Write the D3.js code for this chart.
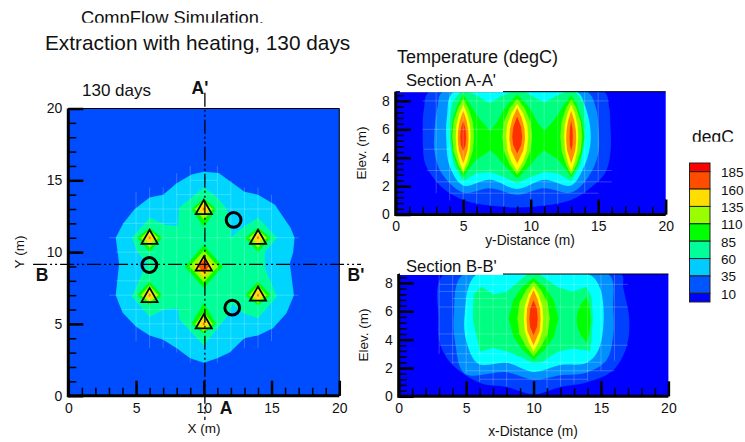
<!DOCTYPE html>
<html>
<head>
<meta charset="utf-8">
<script src="https://cdn.jsdelivr.net/npm/d3@7"></script>
<style>
  html, body { margin: 0; padding: 0; background: #fff; }
  svg { display: block; }
  text { font-family: "Liberation Sans", Arial, sans-serif; fill: #111; }
</style>
</head>
<body>
<svg id="chart" width="745" height="442"></svg>
<script>
// colour legend
const legendLevels = [185, 160, 135, 110, 85, 60, 35, 10];
const legendColors = ["#ff0000", "#ff4d00", "#ffdd00", "#99ff00", "#00ff00", "#00ff99", "#00ccff", "#0055ff", "#0000ff"];

// plan view, contour outlines as [x, y] in metres
const planCyan = [[10,15.6],[11.1,15.5],[13,14.2],[14,14],[15.25,13.3],[16.4,11.7],[16.7,11],[16.6,10],[16.35,9.2],[16.65,7],[16.1,5.75],[15.1,4.7],[14,4.2],[13,4],[11.9,3],[11,2.6],[10,2.3],[9,2.6],[8,3.3],[7,3.9],[6,4.2],[5,4.8],[4,5.8],[3.5,7],[3.75,9.2],[3.5,11],[4.05,12],[4.9,13],[6,13.8],[7,14],[8,14.8],[9.1,15.4]];
const planSpring = [[10,14.5],[11,13.8],[11.7,13],[12,11.8],[12,11],[13,11.8],[14,12.4],[15.4,11],[14.5,10],[14.5,8.9],[15.4,6.9],[14,5.4],[12.8,5.8],[12.1,6.4],[11.8,5.6],[11,4.7],[10,3.5],[9.1,4.4],[8.2,5.3],[8.1,6.1],[7.1,6],[6,5.5],[4.7,6.9],[5.4,8.4],[5.8,9.2],[5.1,10],[4.7,11],[6,12.4],[7.1,11.9],[8.1,11.8],[8.2,13.1],[9.1,13.8]];
// around each well: [x, y, half width, reach up, reach down]
const planGreen = [[10,13,0.92,0.75,1.25],[14,11,0.95,0.7,1],[14,7,0.95,0.95,0.7],[10,5,0.92,1.45,0.65],[6,7,0.92,0.95,0.7],[6,11,0.92,0.7,1],[10,9,1.4,1.5,1.5]];
const planLime = [[10,13,0.65,0.6,0.75],[14,11,0.65,0.55,0.7],[14,7,0.65,0.7,0.55],[10,5,0.65,0.8,0.55],[6,7,0.65,0.7,0.55],[6,11,0.65,0.55,0.7],[10,9,1.05,1.1,1.1]];
const planYellow = [[10,13,0.42,0.45,0.5],[14,11,0.42,0.4,0.45],[14,7,0.42,0.45,0.4],[10,5,0.42,0.5,0.4],[6,7,0.42,0.45,0.4],[6,11,0.42,0.4,0.45],[10,9,0.7,0.75,0.75]];
const planOrange = [[10,13,0.1,0.12,0.12],[14,11,0.1,0.12,0.12],[14,7,0.1,0.12,0.12],[10,5,0.1,0.12,0.12],[6,7,0.1,0.12,0.12],[6,11,0.1,0.12,0.12],[10,9,0.4,0.45,0.45]];

const heaterX = [10, 14, 14, 10, 6, 6, 10];
const heaterY = [12.97, 10.9, 6.95, 5.02, 6.85, 10.9, 9.04];
const monitorX = [12.2, 5.98, 12.1];
const monitorY = [12.24, 9.1, 6.13];

const planMeshV = [[5,3.8,14.2],[6,3.3,14.5],[7,3.3,14.5],[8,3,15.5],[9,2.3,16],[11,2.3,16],[12,3,15],[13,3.3,14.5],[14,3.3,14.5],[15,3.8,14]];
const planMeshH = [[4,7,13],[5,5,15],[6,4,9],[7,3,17],[8,3.5,6],[10,3.5,6.5],[11,3,17],[12,4,8],[13,5,15],[14,8,12],[15,9,11]];

// section A-A', outer bands
const aBand1 = [[2.5,8.66],[2.1,7.5],[2,5.5],[2.15,3.7],[2.55,2.9],[3.5,1.85],[5,1.03],[7,0.63],[9,0.5],[11,0.63],[13,1.03],[14.4,1.85],[15.5,2.9],[15.9,4.3],[15.9,6.4],[15.8,7.6],[15.4,8.66]];
const aBand2 = [[3.5,8.66],[3.1,7.6],[2.85,5.5],[2.9,4.3],[3.4,2.9],[5,1.55],[7,1.85],[9,1.4],[11,1.85],[13,1.55],[14.3,2.7],[15,4.3],[15,6.4],[14.8,7.6],[14.15,8.66]];
const aBand3 = [[4.3,8.66],[3.8,6.9],[3.75,5.25],[4,3.4],[5,2.05],[7,2.45],[9,1.8],[11,2.45],[13,2.05],[13.9,3.25],[14.4,4.8],[14.4,6.2],[14,7.7],[13.4,8.66]];
const aBand4 = [[4.2,7.9],[4.8,8.66],[5.3,8.66],[6,8.4],[6.9,7.85],[8,8.4],[8.6,8.66],[9.5,8.66],[10,8.4],[11,7.9],[12,8.4],[12.7,8.66],[13.3,8.66],[13.9,7.9],[14.05,6.5],[14,5.25],[13.7,3.5],[13,2.35],[12,2.9],[11,3],[10,2.65],[9,2.2],[8,2.65],[7,3],[6,2.9],[5,2.35],[4.3,3.5],[4,5.25],[3.95,6.5]];
const aBand5 = [[4.1,5.5],[4.25,6.8],[4.6,7.8],[5,8.45],[5.5,7.8],[6,7],[6.5,6.4],[7,5.9],[7.5,6.5],[8,7.4],[8.5,8],[9,8.45],[9.5,8],[10,7.4],[10.5,6.5],[11,5.9],[11.5,6.4],[12,7],[12.5,7.8],[13,8.4],[13.4,7.8],[13.75,6.8],[14,5.5],[13.75,4.2],[13.4,3.3],[13,2.65],[12.5,3.3],[12,3.9],[11.5,4.2],[11,4.5],[10.5,4.1],[10,3.5],[9.5,3],[9,2.55],[8.5,3],[8,3.5],[7.5,4.1],[7,4.5],[6.5,4.2],[6,3.9],[5.5,3.3],[5,2.65],[4.6,3.3],[4.25,4.2]];
// lenses round each well: well x, then rows of [y, half width]
const aLime = [[5,[[8.15,0],[7.5,0.38],[6.5,0.72],[5.5,0.8],[4.5,0.72],[3.5,0.38],[2.9,0]]],[9,[[8.15,0],[7.5,0.55],[6.5,1],[5.5,1.1],[4.5,1],[3.5,0.55],[2.8,0]]],[13,[[8.1,0],[7.5,0.38],[6.5,0.72],[5.5,0.8],[4.5,0.72],[3.5,0.38],[2.8,0]]]];
const aYellow = [[5,[[7.75,0],[7.1,0.3],[6.3,0.5],[5.5,0.55],[4.5,0.48],[3.7,0.28],[3.05,0]]],[9,[[7.8,0],[7.1,0.45],[6.3,0.75],[5.5,0.82],[4.5,0.72],[3.7,0.42],[3.05,0]]],[13,[[7.75,0],[7.1,0.28],[6.3,0.47],[5.5,0.52],[4.5,0.45],[3.7,0.26],[3.05,0]]]];
const aOrange = [[5,[[7.3,0],[6.6,0.25],[5.9,0.38],[5.2,0.4],[4.5,0.32],[3.6,0]]],[9,[[7.5,0],[6.8,0.34],[6,0.54],[5.3,0.58],[4.5,0.45],[3.6,0]]],[13,[[7.3,0],[6.6,0.23],[5.9,0.35],[5.2,0.37],[4.5,0.3],[3.6,0]]]];
const aRed = [[5,[[6.6,0],[6,0.18],[5.4,0.22],[4.9,0.18],[4.47,0]]],[9,[[6.9,0],[6.2,0.28],[5.5,0.37],[4.9,0.3],[4.3,0]]],[13,[[6.6,0],[6,0.1],[5.4,0.12],[4.9,0.1],[4.5,0]]]];

const aMeshV = [[3,1.5,8.66],[4,1,8.66],[5,0.9,8.66],[6,0.7,8.66],[7,0.6,8.66],[8,0.5,8.66],[10,0.5,8.66],[11,0.6,8.66],[12,0.7,8.66],[14,1.5,8.66],[15,2.3,8.66]];
const aMeshH = [[8,2,15.8],[6,2,8],[4.6,2.1,4],[3.1,2.3,16],[2.3,3,16],[1.5,4,15]];

// section B-B', outer bands
const bBand1 = [[3.36,8.63],[2.95,5.4],[3.07,3.7],[3.9,2.3],[6.15,0.9],[8,0.66],[10,0.14],[12,0.66],[14,1],[15.9,1.84],[16.9,3.5],[17.1,5.4],[16.65,7.7],[16.5,8.63]];
const bBand2 = [[4.8,8.63],[4.1,5.85],[4.2,3.7],[4.9,1.6],[8,1.7],[10,1.18],[12,1.49],[13.9,1.67],[15.4,2.55],[15.9,4.2],[15.9,6.3],[15.55,8.63]];
const bBand3 = [[5.8,8.63],[4.9,5.85],[5,3.96],[5.9,2.3],[8,2.36],[10,1.72],[12,2.2],[13.95,2.36],[14.8,3.25],[15.2,5.4],[14.9,7.7],[14.05,8.63]];
const bBand4 = [[6.15,7.73],[7,7.2],[8,7.38],[9,8.2],[9.6,8.63],[10.4,8.63],[10.85,8.35],[11.8,7.7],[12.9,7.38],[13.93,7.73],[14.3,7],[14.4,5.5],[14.3,4],[14.2,3.2],[12.9,3.37],[11.8,3.14],[10.6,2.4],[10,2.33],[9.2,2.7],[8.1,3.14],[7,3.4],[6.03,3.14],[5.5,5.4],[5.55,7.2]];
const bSideLens = [[13.93,7],[13.5,6.5],[13.25,5.9],[13.2,5.4],[13.25,4.9],[13.5,4.3],[13.93,3.8],[14.12,4.4],[14.25,5.4],[14.12,6.4]];
const bGreen = [[10,[[8.35,0],[7.7,0.85],[6.8,1.5],[5.5,1.85],[4.2,1.5],[3.3,0.85],[2.6,0]]]];
const bLime = [[10,[[8.1,0],[7.5,0.55],[6.6,1.05],[5.5,1.2],[4.4,1.05],[3.5,0.55],[2.83,0]]]];
const bYellow = [[10,[[7.8,0],[7.2,0.36],[6.4,0.65],[5.5,0.72],[4.6,0.65],[3.8,0.36],[3.14,0]]]];
const bOrange = [[10,[[7.5,0],[6.9,0.28],[6.2,0.48],[5.4,0.52],[4.6,0.46],[3.6,0]]]];
const bRed = [[10,[[6.8,0],[6.2,0.24],[5.5,0.31],[4.9,0.26],[4.3,0]]]];

const bMeshV = [[3,3,8.63],[4,2.3,8.63],[5,1.6,8.63],[6,1,8.63],[7,0.8,8.63],[8,0.7,8.63],[11,0.6,8.63],[12,0.7,8.63],[13,0.9,8.63],[14,1.1,8.63],[15,1.8,8.63],[16,2.5,8.63]];
const bMeshH = [[7.9,3,17],[7.4,3,7],[6.9,4,8],[6.3,3,17],[4.4,3,9],[3.6,3,17],[3,3.5,8],[2.4,4,15],[1.8,5,16],[1.2,6,14]];

const svg = d3.select("#chart");

const planC = { cyan: "#00d5ff", spring: "#00ff99", green: "#00ff00", lime: "#99ff00", yellow: "#ffdd00", orange: "#ff5000" };
const sectC = ["#0040ff", "#0090ff", "#00ffff", "#00ff80", "#00ff00", "#80ff00", "#ffff00", "#ff9000", "#ff3000"];

// lens rows to closed outline
const lens = ([wx, rows]) => rows.map(r => [wx + r[1], r[0]])
  .concat(rows.slice(1, -1).reverse().map(r => [wx - r[1], r[0]]));
const kite = ([wx, wy, rx, up, down]) => [[wx, wy + up], [wx + rx, wy], [wx, wy - down], [wx - rx, wy]];

let clipCount = 0;
function makePanel(box, xMax, yMax, bg) {
  const x = d3.scaleLinear().domain([0, xMax]).range([box.left, box.right]);
  const y = d3.scaleLinear().domain([0, yMax]).range([box.bottom, box.top]);
  const clipId = "clip" + (++clipCount);
  svg.append("clipPath").attr("id", clipId).append("rect")
    .attr("x", box.left).attr("y", box.top)
    .attr("width", box.right - box.left).attr("height", box.bottom - box.top);
  const g = svg.append("g");
  g.append("rect")
    .attr("x", box.left).attr("y", box.top)
    .attr("width", box.right - box.left).attr("height", box.bottom - box.top)
    .attr("fill", bg);
  const fills = g.append("g").attr("clip-path", `url(#${clipId})`);
  const line = d3.line().x(d => x(d[0])).y(d => y(d[1]));
  const smooth = d3.line().x(d => x(d[0])).y(d => y(d[1])).curve(d3.curveCatmullRomClosed.alpha(0.5));
  const poly = (pts, color, round) => fills.append("path")
    .attr("d", round ? smooth(pts) : line(pts) + "Z").attr("fill", color);
  return { x, y, g, poly, box };
}

function drawMesh(p, vert, horiz) {
  const mesh = p.g.append("g").attr("stroke", "#fff").attr("stroke-opacity", 0.22).attr("stroke-width", 1);
  vert.forEach(m => mesh.append("line").attr("x1", p.x(m[0])).attr("x2", p.x(m[0])).attr("y1", p.y(m[1])).attr("y2", p.y(m[2])));
  horiz.forEach(m => mesh.append("line").attr("y1", p.y(m[0])).attr("y2", p.y(m[0])).attr("x1", p.x(m[1])).attr("x2", p.x(m[2])));
}

function drawAxes(p, yMinor, yMajor) {
  const { x, y, g, box } = p;
  const style = (a, w) => {
    a.selectAll("line").attr("stroke", "#000").attr("stroke-width", w);
    a.selectAll("text").style("font-size", "14px").attr("fill", "#111");
    a.select(".domain").remove();
  };
  const xMinor = g.append("g").attr("transform", `translate(0,${box.bottom})`)
    .call(d3.axisBottom(x).tickValues(d3.range(0, 21, 1)).tickSize(-8).tickFormat(""));
  style(xMinor, 1.5);
  const xMajor = g.append("g").attr("transform", `translate(0,${box.bottom})`)
    .call(d3.axisBottom(x).tickValues([0, 5, 10, 15, 20]).tickSizeInner(-15).tickSizeOuter(0).tickPadding(7));
  style(xMajor, 2.5);
  const yMin = g.append("g").attr("transform", `translate(${box.left},0)`)
    .call(d3.axisLeft(y).tickValues(yMinor).tickSize(-8).tickFormat(""));
  style(yMin, 1.5);
  const yMaj = g.append("g").attr("transform", `translate(${box.left},0)`)
    .call(d3.axisLeft(y).tickValues(yMajor).tickSizeInner(-15).tickSizeOuter(0).tickPadding(6));
  style(yMaj, 2.5);
  // thick left and bottom edge, thin top
  g.append("line").attr("x1", box.left).attr("x2", box.left).attr("y1", box.top).attr("y2", box.bottom + 1.5).attr("stroke", "#000").attr("stroke-width", 3);
  g.append("line").attr("x1", box.left).attr("x2", box.right).attr("y1", box.bottom).attr("y2", box.bottom).attr("stroke", "#000").attr("stroke-width", 3);
  g.append("line").attr("x1", box.left).attr("x2", box.right).attr("y1", box.top).attr("y2", box.top).attr("stroke", "#000").attr("stroke-width", 1);
}

const label = (x, y, str, size, opts = {}) => svg.append("text")
  .attr("x", x).attr("y", y)
  .attr("text-anchor", opts.anchor || "start")
  .attr("font-weight", opts.bold ? "bold" : null)
  .attr("transform", opts.rotate ? `rotate(-90,${x},${y})` : null)
  .style("font-size", size + "px")
  .text(str);

// === plan view ===
const plan = makePanel({ left: 68.3, right: 339.3, top: 108.5, bottom: 395.7 }, 20, 20, "#004cff");
plan.poly(planCyan, planC.cyan);
plan.poly(planSpring, planC.spring);
planGreen.forEach(d => plan.poly(kite(d), planC.green));
planLime.forEach(d => plan.poly(kite(d), planC.lime));
planYellow.forEach(d => plan.poly(kite(d), planC.yellow));
planOrange.forEach(d => plan.poly(kite(d), planC.orange));
drawMesh(plan, planMeshV, planMeshH);
plan.g.append("line").attr("x1", plan.x(20)).attr("x2", plan.x(20)).attr("y1", 108.5).attr("y2", 395.7).attr("stroke", "#000").attr("stroke-width", 1);
drawAxes(plan, d3.range(0, 21, 1), [0, 5, 10, 15, 20]);

// section cut lines
const cutStyle = s => s.attr("stroke", "#000").attr("stroke-width", 1.3).attr("stroke-dasharray", "14,3,2,3,2,3");
cutStyle(svg.append("line").attr("x1", plan.x(10.08)).attr("x2", plan.x(10.08)).attr("y1", plan.y(21.1)).attr("y2", plan.y(-1.7)));
cutStyle(svg.append("line").attr("x1", plan.x(-2.6)).attr("x2", plan.x(21.6)).attr("y1", plan.y(9.15)).attr("y2", plan.y(9.15)));

svg.append("g").selectAll("path").data(heaterX).enter().append("path")
  .attr("d", d3.symbol(d3.symbolTriangle, 115))
  .attr("transform", (d, i) => `translate(${plan.x(d)},${plan.y(heaterY[i])})`)
  .attr("fill", "none").attr("stroke", "#000").attr("stroke-width", 1.7);

svg.append("g").selectAll("circle").data(monitorX).enter().append("circle")
  .attr("cx", d => plan.x(d))
  .attr("cy", (d, i) => plan.y(monitorY[i]))
  .attr("r", 7.4)
  .attr("fill", "none").attr("stroke", "#000").attr("stroke-width", 3);

// === section A-A' ===
const secA = makePanel({ left: 395.7, right: 665.7, top: 91.7, bottom: 214.5 }, 20, 8.65, "#0000ff");
[aBand1, aBand2, aBand3].forEach((b, i) => secA.poly(b, sectC[i], true));
[aBand4, aBand5].forEach((b, i) => secA.poly(b, sectC[i + 3]));
[aLime, aYellow, aOrange, aRed].forEach((lv, i) => lv.forEach(d => secA.poly(lens(d), sectC[i + 5])));
drawMesh(secA, aMeshV, aMeshH);
drawAxes(secA, d3.range(0, 8.7, 0.4), [0, 2, 4, 6, 8]);

// === section B-B' ===
const secB = makePanel({ left: 398.7, right: 668.4, top: 274, bottom: 396.3 }, 20, 8.63, "#0000ff");
[bBand1, bBand2, bBand3].forEach((b, i) => secB.poly(b, sectC[i], true));
secB.poly(bBand4, sectC[3]);
secB.poly(bSideLens, sectC[4]);
[bGreen, bLime, bYellow, bOrange, bRed].forEach((lv, i) => lv.forEach(d => secB.poly(lens(d), sectC[i + 4])));
drawMesh(secB, bMeshV, bMeshH);
drawAxes(secB, d3.range(0, 8.7, 0.4), [0, 2, 4, 6, 8]);

// labels sit on white boxes that hide part of the panel top
svg.append("rect").attr("x", 400).attr("y", 74).attr("width", 103).attr("height", 18.2).attr("fill", "#fff");
svg.append("rect").attr("x", 400).attr("y", 256).attr("width", 103).attr("height", 19).attr("fill", "#fff");

label(81, 24, "CompFlow Simulation.", 18.3);
svg.append("rect").attr("x", 70).attr("y", 22.7).attr("width", 210).attr("height", 9).attr("fill", "#fff");
label(45, 50, "Extraction with heating, 130 days", 20.8);
label(82, 96, "130 days", 17);
label(200, 94, "A'", 17.5, { anchor: "middle", bold: true });
label(42, 281, "B", 17.5, { anchor: "middle", bold: true });
label(356, 281, "B'", 17.5, { anchor: "middle", bold: true });
label(226, 414, "A", 17.5, { anchor: "middle", bold: true });
label(204, 433, "X (m)", 13.5, { anchor: "middle" });
label(24, 252, "Y (m)", 13.5, { anchor: "middle", rotate: true });
label(397, 63, "Temperature (degC)", 18);
label(406, 86, "Section A-A'", 16.6);
label(406, 272, "Section B-B'", 16.6);
label(366, 153, "Elev. (m)", 13.5, { anchor: "middle", rotate: true });
label(368, 335, "Elev. (m)", 13.5, { anchor: "middle", rotate: true });
label(530, 245, "y-Distance (m)", 13.8, { anchor: "middle" });
label(533, 436, "x-Distance (m)", 13.8, { anchor: "middle" });

// === legend ===
const legendY = d3.scaleLinear().domain([185, 10]).range([171.7, 293.3]);
const legendEdges = [197.5].concat(legendLevels, [-2.5]);
svg.append("g").selectAll("rect").data(legendColors).enter().append("rect")
  .attr("x", 689.5).attr("width", 20.5)
  .attr("y", (d, i) => legendY(legendEdges[i]))
  .attr("height", (d, i) => legendY(legendEdges[i + 1]) - legendY(legendEdges[i]))
  .attr("fill", d => d)
  .attr("stroke", "#222").attr("stroke-width", 1);
svg.append("g").selectAll("text").data(legendLevels).enter().append("text")
  .attr("x", 721).attr("y", d => legendY(d) + 5.5)
  .style("font-size", "13.5px")
  .text(d => d);
label(692, 142.5, "degC", 17.5);
svg.append("rect").attr("x", 688).attr("y", 141.7).attr("width", 55).attr("height", 8).attr("fill", "#fff");
</script>
</body>
</html>
